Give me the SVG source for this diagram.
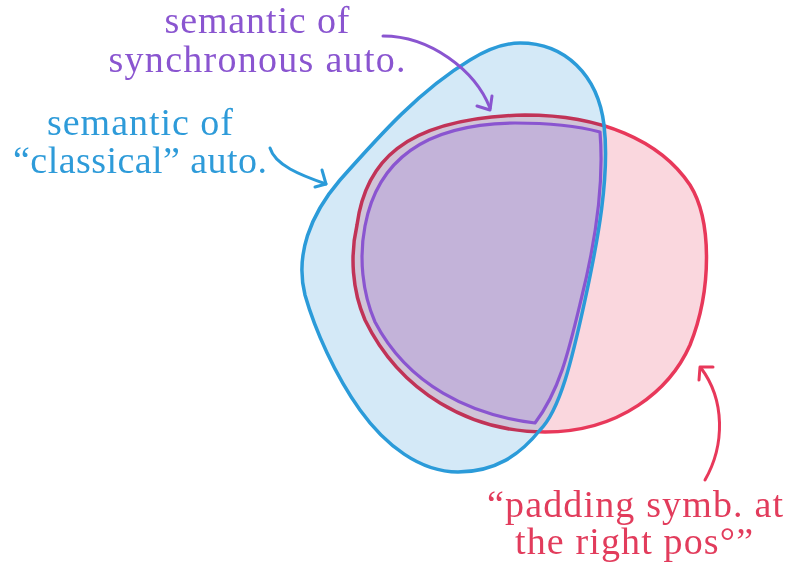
<svg xmlns="http://www.w3.org/2000/svg" width="795" height="566" viewBox="0 0 795 566">
  <style>
    .lbl { font-family: "Liberation Serif", "DejaVu Serif", serif; font-size: 38px; text-anchor: middle; }
    .arrow { fill: none; stroke-width: 3; stroke-linecap: round; stroke-linejoin: round; }
  </style>
  <rect width="795" height="566" fill="#ffffff"/>
  <g id="classical-region">
    <path id="blue-fill" d="M 520 43 C 565 43, 598 75, 604 125 C 610 175, 598 240, 585 300 C 572 360, 560 410, 540 430 C 520 455, 495 472, 458 472 C 420 472, 385 445, 360 410 C 335 375, 315 330, 305 295 C 295 255, 310 215, 340 180 C 380 135, 420 90, 470 60 C 488 49, 505 43, 520 43 Z" fill="#d4e9f7"/>
  </g>
  <g id="padding-region" style="mix-blend-mode:multiply">
    <path d="M 525 115 C 600 115, 660 140, 690 185 C 712 220, 712 290, 690 345 C 670 390, 620 432, 545 432 C 470 432, 400 392, 365 320 C 352 290, 350 255, 357 225 C 365 165, 400 118, 525 115 Z" fill="#fad7de" stroke="#e8385a" stroke-width="3.5"/>
  </g>
  <g id="synchronous-region">
    <path d="M 600 132 C 604 180, 596 240, 581 300 C 569 350, 560 390, 535 423 C 470 415, 408 385, 375 322 C 362 292, 359 257, 365 226 C 375 172, 412 124, 515 123 C 560 123, 585 128, 600 132 Z" fill="#c3b3d9" stroke="#8a55d0" stroke-width="3.2" stroke-linejoin="round"/>
  </g>
  <g id="classical-outline">
    <path d="M 520 43 C 565 43, 598 75, 604 125 C 610 175, 598 240, 585 300 C 572 360, 560 410, 540 430 C 520 455, 495 472, 458 472 C 420 472, 385 445, 360 410 C 335 375, 315 330, 305 295 C 295 255, 310 215, 340 180 C 380 135, 420 90, 470 60 C 488 49, 505 43, 520 43 Z" fill="none" stroke="#2b9bd9" stroke-width="3.5"/>
  </g>
  <g id="connectors">
    <g stroke="#8a55d0" class="arrow">
      <path d="M 383 36 C 430 36, 475 70, 490 108"/>
      <path d="M 477 106 L 490 110 L 492 96"/>
    </g>
    <g stroke="#2b9bd9" class="arrow">
      <path d="M 270 148 C 275 165, 300 175, 326 184"/>
      <path d="M 315 187 L 326 184 L 322 170"/>
    </g>
    <g stroke="#e8385a" class="arrow">
      <path d="M 705 480 C 725 445, 725 400, 701 368"/>
      <path d="M 713 367 L 700 367 L 699 380"/>
    </g>
  </g>
  <g id="label-synchronous" class="lbl" fill="#8a55d0">
    <text x="257" y="33" textLength="185" lengthAdjust="spacing">semantic of</text>
    <text x="257" y="72" textLength="297" lengthAdjust="spacing">synchronous auto.</text>
  </g>
  <g id="label-classical" class="lbl" fill="#2e9bd9">
    <text x="140" y="135" textLength="186" lengthAdjust="spacing">semantic of</text>
    <text x="140" y="173" textLength="254" lengthAdjust="spacing">“classical” auto.</text>
  </g>
  <g id="label-padding" class="lbl" fill="#e23c5c">
    <text x="635" y="517" textLength="296" lengthAdjust="spacing">“padding symb. at</text>
    <text x="634" y="554" textLength="238" lengthAdjust="spacing">the right pos°”</text>
  </g>
</svg>
